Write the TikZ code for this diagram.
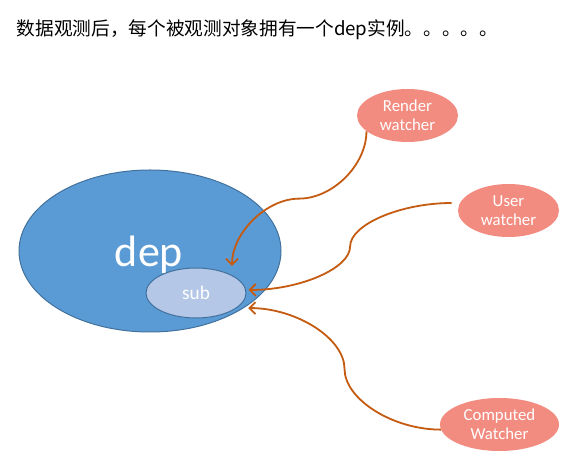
\documentclass[tikz,border=0pt]{standalone}
\usepackage{fontspec}
\setmainfont{Carlito}
\newfontfamily\cjk{Noto Sans CJK SC}
\usetikzlibrary{arrows.meta,shapes.geometric,calc}
\definecolor{depblue}{HTML}{5B9BD5}
\definecolor{depline}{HTML}{41719C}
\definecolor{subblue}{HTML}{B4C7E7}
\definecolor{salmon}{HTML}{F38C80}
\definecolor{wirec}{HTML}{C55A11}
\begin{document}
\begin{tikzpicture}[x=0.75pt,y=-0.75pt,
 big/.style={ellipse, draw=depline, fill=depblue, line width=0.75pt, minimum width=196.5pt, minimum height=121.5pt, inner sep=0pt},
 small/.style={ellipse, draw=depline, fill=subblue, line width=0.75pt, minimum width=75pt, minimum height=37.5pt, inner sep=0pt, text=white, font=\fontsize{14.5}{16}\selectfont},
 watcher/.style={ellipse, fill=salmon, minimum height=39.75pt, inner sep=0pt, text=white, align=center, font=\fontsize{12.6}{14.25}\selectfont},
 wire/.style={draw=wirec, line width=1.35pt, -{Straight Barb[length=4.5pt,width=9pt]}},
]
\useasboundingbox (0,0) rectangle (579,459);
\node[anchor=base west, font=\cjk\fontsize{14}{16}\selectfont] (title) at (12,35.5) {数据观测后，每个被观测对象拥有一个dep实例。。。。。};
\node[big] (dep) at (150,251) {};
\node[anchor=base, text=white, font=\fontsize{33}{40}\selectfont] (deplabel) at (149,266.7) {dep};
\node[small] (sub) at (196,293) {sub};
\node[watcher, minimum width=75.75pt] (render) at (407.5,115.5) {Render\\watcher};
\node[watcher, minimum width=75.75pt] (user) at (508.5,210.5) {User\\watcher};
\node[watcher, minimum width=89.25pt] (computed) at (499.5,424.5) {Computed\\Watcher};
% render connector
\coordinate (t1) at (232,266);
\coordinate (m1) at ($(render.201)!0.5!(t1)$);
\draw[wire] (render.201) .. controls +(0,34) and +(33,0) .. (m1) .. controls +(-33,0) and +(0,-33) .. (t1);
% user connector
\coordinate (s2) at ($(user.west)+(-6,-7.5)$);
\coordinate (e2) at ($(sub.east)+(2,-3)$);
\coordinate (m2) at ($(s2)!0.5!(e2)$);
\draw[wire] (s2) .. controls +(-51,0) and +(0,-22) .. (m2) .. controls +(0,22) and +(51,0) .. (e2);
% computed connector
\coordinate (e3) at ($(dep.-30)+(2,1.5)$);
\coordinate (m3) at ($(computed.185)!0.5!(e3)$);
\draw[wire] (computed.185) .. controls +(-48,0) and +(0,30.5) .. (m3) .. controls +(0,-30.5) and +(48,0) .. (e3);
\end{tikzpicture}
\end{document}
